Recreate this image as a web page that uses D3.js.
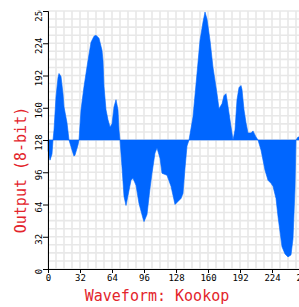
<!DOCTYPE html>
<html>
<head>
<meta charset="utf-8">
<script src="https://cdn.jsdelivr.net/npm/d3@7"></script>
<style>
  html, body { margin: 0; padding: 0; background: #fff; }
  svg { display: block; }
</style>
</head>
<body>
<div id="chart"></div>
<script>
// waveform samples (index -> 8-bit output)
const sampleIdx = [0, 2, 4, 5, 6, 8, 10, 11, 13, 15, 16, 19, 21, 24, 26, 27, 30, 31, 33, 36,
  40, 43, 46, 48, 51, 54, 55, 56, 58, 60, 62, 64, 66, 68, 70, 71, 72, 74, 76, 78,
  80, 83, 85, 88, 91, 95, 96, 99, 102, 104, 107, 109, 112, 114, 119, 123, 127, 130, 133, 135,
  137, 139, 141, 145, 149, 152, 155, 157, 159, 162, 165, 169, 171, 174, 176, 178, 179, 182, 185, 187,
  189, 191, 193, 194, 196, 198, 200, 203, 205, 208, 210, 213, 217, 220, 223, 225, 228, 230, 234, 237,
  240, 243, 245, 247, 248, 250, 252, 255];
const outputVal = [118, 108, 114, 128, 138, 171, 190, 194, 191, 174, 161, 145, 128, 118, 112, 113, 123, 128, 158, 181,
  207, 225, 231, 232, 229, 217, 207, 181, 158, 148, 141, 144, 161, 168, 158, 138, 128, 101, 72, 63,
  73, 88, 90, 83, 65, 50, 47, 54, 80, 95, 115, 120, 110, 95, 93, 82, 64, 67, 70, 75,
  100, 122, 128, 151, 194, 227, 245, 255, 248, 227, 200, 174, 159, 164, 172, 174, 168, 148, 128, 138,
  168, 180, 182, 178, 158, 145, 135, 135, 137, 131, 128, 118, 98, 88, 85, 82, 70, 52, 22, 15,
  12, 14, 30, 80, 128, 131, 131, 130];

const xTicks = [0, 32, 64, 96, 128, 160, 192, 224, 256];
const yTicks = [0, 32, 64, 96, 128, 160, 192, 224, 256];
const midLevel = 128;

const width = 299, height = 307;
const mono = "'DejaVu Sans Mono', 'Liberation Mono', monospace";
const red = '#e3242b';

const x = d3.scaleLinear().domain([0, 256]).range([48, 304]);
const y = d3.scaleLinear().domain([0, 256]).range([269, 11]);

const svg = d3.select('#chart')
  .append('svg')
  .attr('width', width)
  .attr('height', height);

// the picture is cut off just above the plot
svg.append('clipPath').attr('id', 'cut')
  .append('rect').attr('x', 0).attr('y', 10).attr('width', width).attr('height', height - 10);

const g = svg.append('g').attr('clip-path', 'url(#cut)');

// grid every 8 units
const grid = d3.range(0, 257, 8);
g.append('g').selectAll('line.v')
  .data(grid).enter().append('line')
  .attr('x1', d => x(d)).attr('x2', d => x(d))
  .attr('y1', y(256)).attr('y2', y(0))
  .style('stroke', '#e8e8e8').style('stroke-width', '1.6px');
g.append('g').selectAll('line.h')
  .data(grid).enter().append('line')
  .attr('x1', x(0)).attr('x2', x(256))
  .attr('y1', d => y(d)).attr('y2', d => y(d))
  .style('stroke', '#e8e8e8').style('stroke-width', '1.6px');

// filled waveform around the mid level
const points = sampleIdx.map((s, i) => [s, outputVal[i]]);
const area = d3.area()
  .x(d => x(d[0]))
  .y0(y(midLevel))
  .y1(d => y(d[1]));

g.append('path')
  .datum(points)
  .attr('d', area)
  .style('fill', '#0066ff')
  .style('stroke', '#0066ff')
  .style('stroke-width', '0.6px');

// axes
const xAxis = g.append('g')
  .attr('transform', `translate(0,${y(0)})`)
  .call(d3.axisBottom(x).tickValues(xTicks).tickSize(4).tickPadding(2));
const yAxis = g.append('g')
  .attr('transform', `translate(${x(0)},0)`)
  .call(d3.axisLeft(y).tickValues(yTicks).tickSize(5).tickPadding(2));

[xAxis, yAxis].forEach(a => {
  a.select('.domain').style('stroke', '#000');
  a.selectAll('.tick line').style('stroke', '#000');
  a.selectAll('text').style('font-family', mono).style('font-size', '9px').style('fill', '#000');
});

// y tick labels run bottom to top
yAxis.selectAll('.tick text')
  .attr('x', null).attr('dy', null)
  .attr('text-anchor', 'middle')
  .attr('transform', 'translate(-6,2) rotate(-90)');

// axis titles
g.append('text')
  .attr('transform', 'translate(26,170) rotate(-90)')
  .attr('text-anchor', 'middle')
  .style('font-family', mono)
  .style('font-size', '15px')
  .style('fill', red)
  .text('Output (8-bit)');

g.append('text')
  .attr('x', 157)
  .attr('y', 301)
  .attr('text-anchor', 'middle')
  .style('font-family', mono)
  .style('font-size', '15px')
  .style('fill', red)
  .text('Waveform: Kookop');
</script>
</body>
</html>
